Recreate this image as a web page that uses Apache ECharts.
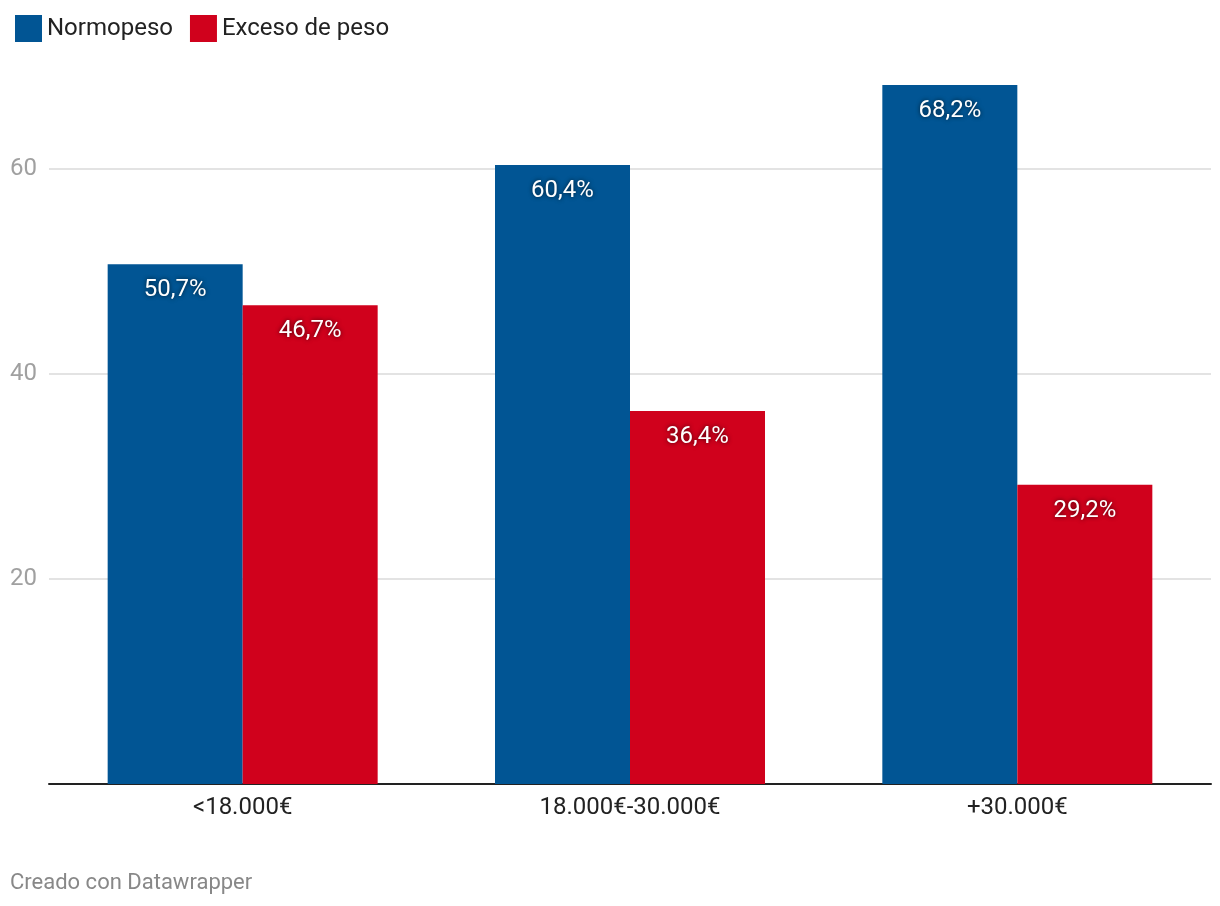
<!DOCTYPE html>
<html>
<head>
<meta charset="utf-8">
<script src="https://cdn.jsdelivr.net/npm/echarts@6/dist/echarts.min.js"></script>
<style>html,body{margin:0;padding:0;background:#fff;}#c{width:1220px;height:906px;}</style>
</head>
<body>
<div id="c"></div>
<script>
const categories = ['<18.000€', '18.000€-30.000€', '+30.000€'];
const normopeso = [50.7, 60.4, 68.2];
const exceso = [46.7, 36.4, 29.2];
const seriesNames = ['Normopeso', 'Exceso de peso'];
const yTicks = [0, 20, 40, 60];

const chart = echarts.init(document.getElementById('c'), null, {renderer: 'canvas'});
const fmt = p => p.value.toFixed(1).replace('.', ',') + '%';
const labelStyle = {
  show: true, position: 'insideTop', distance: 14, formatter: fmt,
  color: '#fff', fontFamily: 'Roboto', fontSize: 24,
  textShadowColor: 'rgba(0,0,0,0.7)', textShadowBlur: 4
};
chart.setOption({
  animation: false,
  textStyle: {fontFamily: 'Roboto'},
  legend: {
    left: 10, top: 10, itemWidth: 27, itemHeight: 27, itemGap: 17, icon: 'rect',
    textStyle: {fontSize: 24, color: '#222', fontFamily: 'Roboto'},
    data: seriesNames
  },
  grid: {left: 49, right: 9, top: 66.5, bottom: 122, containLabel: false},
  xAxis: {
    type: 'category', data: categories,
    axisLine: {lineStyle: {color: '#222', width: 2}},
    axisTick: {show: false},
    axisLabel: {fontSize: 24, color: '#222', margin: 12, fontFamily: 'Roboto'}
  },
  yAxis: {
    type: 'value', min: 0, max: 70, interval: 20,
    axisLine: {show: false}, axisTick: {show: false},
    axisLabel: {
      showMinLabel: false, showMaxLabel: false, align: 'left', margin: 39,
      fontSize: 24, color: '#a0a0a0', fontFamily: 'Roboto',
      formatter: v => yTicks.includes(v) ? String(v) : ''
    },
    splitLine: {showMaxLine: false, showMinLine: false, lineStyle: {color: '#e3e3e3', width: 2}}
  },
  series: [
    {name: seriesNames[0], type: 'bar', data: normopeso, barWidth: 135, barGap: '0%',
     itemStyle: {color: '#015594'}, label: labelStyle},
    {name: seriesNames[1], type: 'bar', data: exceso, barWidth: 135, barGap: '0%',
     itemStyle: {color: '#d0011c'}, label: labelStyle}
  ],
  graphic: [{
    type: 'text', left: 10, top: 872,
    style: {text: 'Creado con Datawrapper', fill: '#888', fontSize: 22, fontFamily: 'Roboto'}
  }]
});
</script>
</body>
</html>
